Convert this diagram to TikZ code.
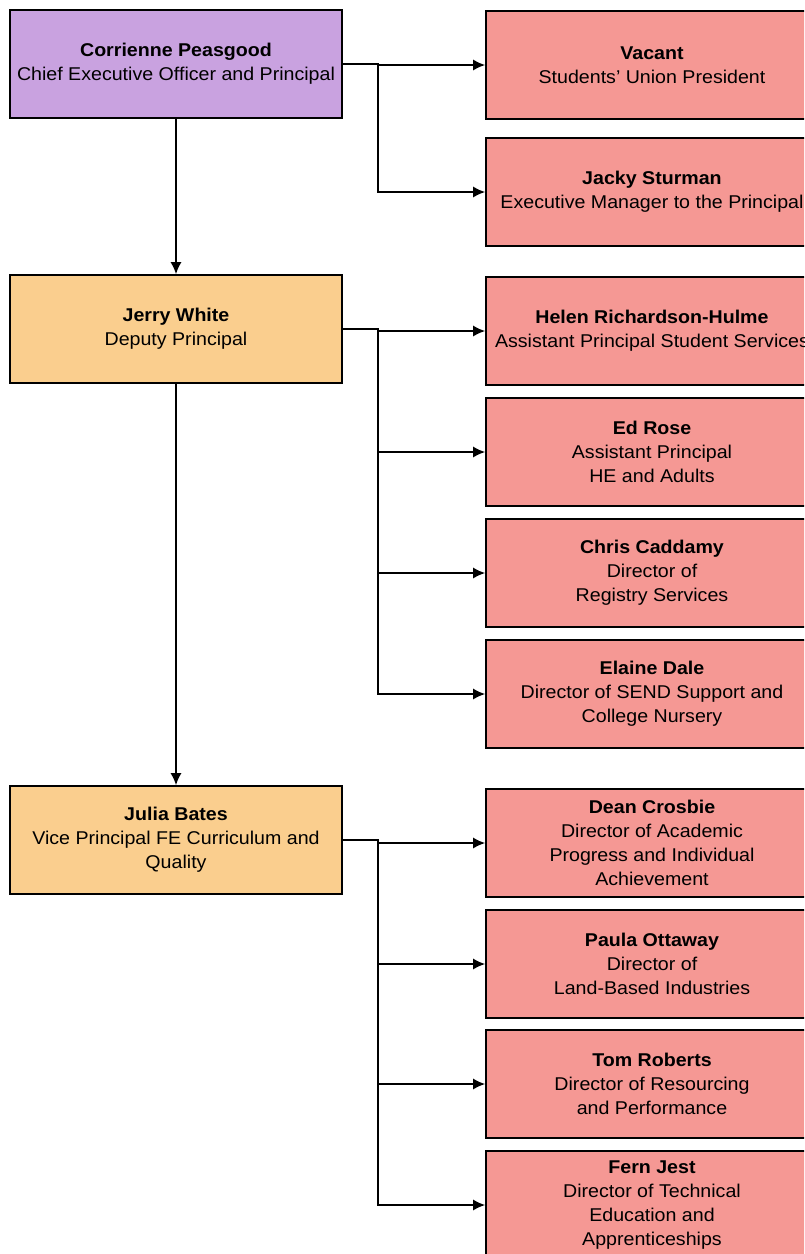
\documentclass[tikz,border=0pt]{standalone}
\usepackage{fontspec}
\setmainfont[FakeStretch=1.06]{Liberation Sans}
\usepackage{xcolor}
\usepackage{tikz}
\usetikzlibrary{shapes}
\usetikzlibrary{arrows.meta}
\definecolor{chefcol}{RGB}{201,162,224}
\definecolor{deputycol}{RGB}{250,206,142}
\definecolor{staffcol}{RGB}{245,152,148}
\tikzstyle{poste}=[rectangle,draw,line width=1.6pt,text=black,align=center,
minimum width=332pt,minimum height=108pt,inner sep=0pt,
font=\fontsize{18.5}{24}\selectfont]
\tikzstyle{chef}=[poste,fill=chefcol]
\tikzstyle{adjoint}=[poste,fill=deputycol]
\tikzstyle{membre}=[poste,fill=staffcol]
\tikzstyle{suite}=[-{Latex[length=12pt,width=11pt]},line width=1.6pt]
\begin{document}
\begin{tikzpicture}[x=1pt,y=-1pt]
\clip (0,0) rectangle (804,1254);
\node[chef] (ceo) at (176,64) {\textbf{Corrienne Peasgood}\\Chief Executive Officer and Principal};
\node[adjoint] (jerry) at (176,329) {\textbf{Jerry White}\\Deputy Principal};
\node[adjoint] (julia) at (176,840) {\textbf{Julia Bates}\\Vice Principal FE Curriculum and\\Quality};
\node[membre] (vacant) at (652,65) {\textbf{Vacant}\\Students' Union President};
\node[membre] (jacky) at (652,192) {\textbf{Jacky Sturman}\\Executive Manager to the Principal};
\node[membre] (helen) at (652,331) {\textbf{Helen Richardson-Hulme}\\Assistant Principal Student Services};
\node[membre] (ed) at (652,452) {\textbf{Ed Rose}\\Assistant Principal\\HE and Adults};
\node[membre] (chris) at (652,573) {\textbf{Chris Caddamy}\\Director of\\Registry Services};
\node[membre] (elaine) at (652,694) {\textbf{Elaine Dale}\\Director of SEND Support and\\College Nursery};
\node[membre] (dean) at (652,843) {\textbf{Dean Crosbie}\\Director of Academic\\Progress and Individual\\Achievement};
\node[membre] (paula) at (652,964) {\textbf{Paula Ottaway}\\Director of\\Land-Based Industries};
\node[membre] (tom) at (652,1084) {\textbf{Tom Roberts}\\Director of Resourcing\\and Performance};
\node[membre] (fern) at (652,1205) {\textbf{Fern Jest}\\Director of Technical\\Education and\\Apprenticeships};
%liens hierarchiques
\draw[suite] (ceo) -- (jerry);
\draw[suite] (jerry) -- (julia);
\draw[suite] (ceo.east) -- ++(35,0) |- (vacant);
\draw[suite] (ceo.east) -- ++(35,0) |- (jacky);
\draw[suite] (jerry.east) -- ++(35,0) |- (helen);
\draw[suite] (jerry.east) -- ++(35,0) |- (ed);
\draw[suite] (jerry.east) -- ++(35,0) |- (chris);
\draw[suite] (jerry.east) -- ++(35,0) |- (elaine);
\draw[suite] (julia.east) -- ++(35,0) |- (dean);
\draw[suite] (julia.east) -- ++(35,0) |- (paula);
\draw[suite] (julia.east) -- ++(35,0) |- (tom);
\draw[suite] (julia.east) -- ++(35,0) |- (fern);
\end{tikzpicture}
\end{document}
